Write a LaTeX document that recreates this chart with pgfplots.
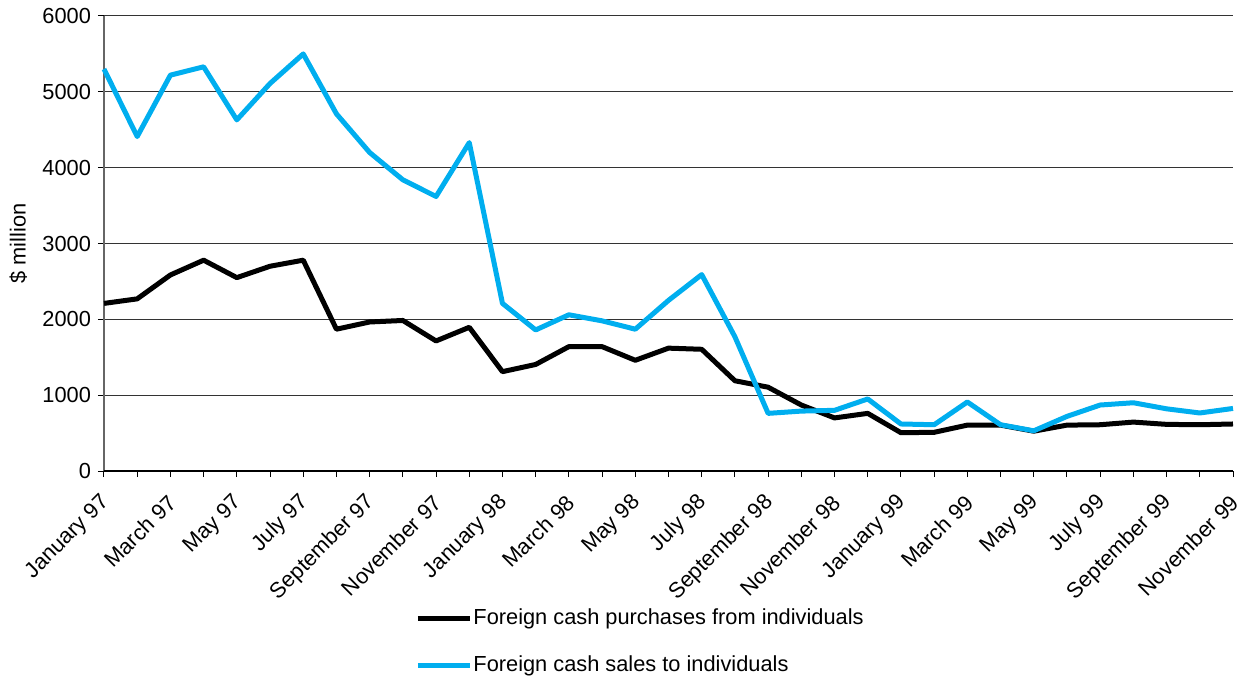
\documentclass[border=0pt]{standalone}
\usepackage{fontspec}
\setmainfont{Liberation Sans}
\usepackage{pgfplots}
\pgfplotsset{compat=1.18}
\definecolor{cblue}{HTML}{00AEEF}
\begin{document}
\begin{tikzpicture}[font=\fontsize{10.9}{13}\selectfont]
\useasboundingbox (-52pt,-104.5pt) rectangle (570pt,235.5pt);
\begin{axis}[
  at={(0,0)}, anchor=south west,
  scale only axis, width=564.5pt, height=227.5pt,
  xmin=0, xmax=34, ymin=0, ymax=6000,
  axis lines*=left,
  axis line style={draw=none},
  xtick={0,...,34},
  xticklabels={January 97,,March 97,,May 97,,July 97,,September 97,,November 97,,January 98,,March 98,,May 98,,July 98,,September 98,,November 98,,January 99,,March 99,,May 99,,July 99,,September 99,,November 99},
  xticklabel style={rotate=45, anchor=east, inner sep=1pt, yshift=-8.5pt, xshift=-6pt},
  ytick={0,1000,...,6000},
  yticklabel style={/pgf/number format/1000 sep={}},
  /pgf/number format/assume math mode=true,
  tick align=outside, major tick length=3pt,
  tick style={black, line width=0.5pt},
  ymajorgrids, grid style={black!80, line width=0.5pt},
  ylabel={\$ million},
  ylabel style={at={(axis description cs:-0.076,0.5)}, anchor=center},
  legend style={draw=none, fill=none, at={(0.2755,-0.294)}, anchor=north west,
    row sep=10pt, cells={anchor=west}, inner sep=0pt,
    nodes={inner xsep=0.5pt}},
  legend image code/.code={\draw[#1] (0pt,0pt) -- (26pt,0pt);},
  clip=false,
]
\draw[black!60, line width=0.6pt] (axis cs:0,0) -- (axis cs:0,6000);
\draw[black, line width=0.6pt] (axis cs:0,0) -- (axis cs:34,0);
\addplot[black, line width=2.5pt, line join=round] coordinates {
(0,2210)(1,2270)(2,2585)(3,2780)(4,2550)(5,2700)(6,2780)(7,1870)(8,1965)(9,1985)
(10,1715)(11,1895)(12,1310)(13,1405)(14,1640)(15,1640)(16,1460)(17,1620)(18,1605)(19,1190)
(20,1105)(21,870)(22,700)(23,760)(24,505)(25,510)(26,605)(27,605)(28,525)(29,605)
(30,610)(31,645)(32,615)(33,610)(34,620)};
\addlegendentry{Foreign cash purchases from individuals}
\addplot[cblue, line width=2.5pt, line join=round] coordinates {
(0,5300)(1,4410)(2,5220)(3,5330)(4,4630)(5,5110)(6,5500)(7,4710)(8,4200)(9,3840)
(10,3620)(11,4330)(12,2210)(13,1860)(14,2060)(15,1980)(16,1870)(17,2250)(18,2590)(19,1770)
(20,760)(21,790)(22,800)(23,950)(24,620)(25,610)(26,910)(27,610)(28,530)(29,720)
(30,870)(31,900)(32,820)(33,765)(34,825)};
\addlegendentry{Foreign cash sales to individuals}
\end{axis}
\end{tikzpicture}
\end{document}
